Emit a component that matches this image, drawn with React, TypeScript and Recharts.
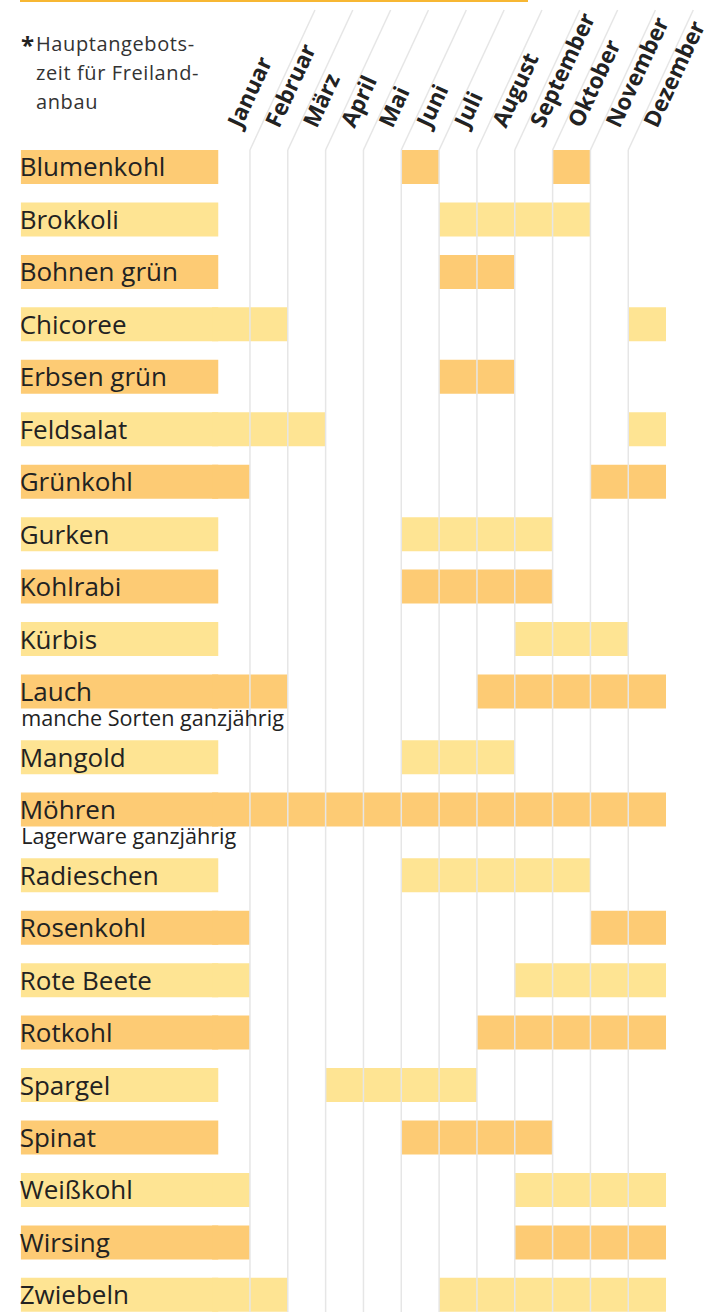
import { Bar, BarChart, Cell, LabelList, ReferenceLine, XAxis, YAxis } from "recharts";

const MONTHS = [
  "Januar",
  "Februar",
  "März",
  "April",
  "Mai",
  "Juni",
  "Juli",
  "August",
  "September",
  "Oktober",
  "November",
  "Dezember",
];

const VEGETABLES = [
  "Blumenkohl",
  "Brokkoli",
  "Bohnen grün",
  "Chicoree",
  "Erbsen grün",
  "Feldsalat",
  "Grünkohl",
  "Gurken",
  "Kohlrabi",
  "Kürbis",
  "Lauch",
  "Mangold",
  "Möhren",
  "Radieschen",
  "Rosenkohl",
  "Rote Beete",
  "Rotkohl",
  "Spargel",
  "Spinat",
  "Weißkohl",
  "Wirsing",
  "Zwiebeln",
];

// Hauptangebotsmonate je Gemüse (1 = Januar ... 12 = Dezember)
const SEASONS: number[][] = [
  [6, 10],
  [7, 8, 9, 10],
  [7, 8],
  [1, 2, 12],
  [7, 8],
  [1, 2, 3, 12],
  [1, 11, 12],
  [6, 7, 8, 9],
  [6, 7, 8, 9],
  [9, 10, 11],
  [1, 2, 8, 9, 10, 11, 12],
  [6, 7, 8],
  [1, 2, 3, 4, 5, 6, 7, 8, 9, 10, 11, 12],
  [6, 7, 8, 9, 10],
  [1, 11, 12],
  [1, 9, 10, 11, 12],
  [1, 8, 9, 10, 11, 12],
  [4, 5, 6, 7],
  [6, 7, 8, 9],
  [1, 9, 10, 11, 12],
  [1, 9, 10, 11, 12],
  [1, 2, 7, 8, 9, 10, 11, 12],
];

const NOTES: Record<string, string> = {
  Lauch: "manche Sorten ganzjährig",
  Möhren: "Lagerware ganzjährig",
};

const LEGEND_LINES = ["Hauptangebots-", "zeit für Freiland-", "anbau"];

const FONT = "'Open Sans', 'Noto Sans', sans-serif";
const TEXT = "#222222";
const ORANGE = "#fdcb74";
const YELLOW = "#fee493";
const GRID = "#e6e6e6";
const ACCENT = "#f7b733";

// layout
const WIDTH = 710;
const HEIGHT = 1312;
const HEADER = 150;
const ROW_PX = 52.45;
const NOTE_GAP = 0.252; // extra space under a row with a note, in rows
const BAR = 34;
const NAME_FROM = -5.06;
const NAME_TO = 0.162;
const Y_MIN = -0.328;
const Y_MAX = Y_MIN + (HEIGHT - HEADER) / ROW_PX;

const toRuns = (months: number[]) => {
  const runs: [number, number][] = [];
  months.forEach((m) => {
    const last = runs[runs.length - 1];
    if (last && last[1] === m - 1) last[1] = m;
    else runs.push([m - 1, m]);
  });
  return runs;
};

let noteShift = 0;
const rows = VEGETABLES.map((name, i) => {
  const row = {
    name,
    note: NOTES[name] ?? "",
    pos: i + noteShift,
    box: [NAME_FROM, NAME_TO],
    runs: toRuns(SEASONS[i]),
  };
  if (NOTES[name]) noteShift += NOTE_GAP;
  return row;
});

const RUN_SLOTS = Array.from(
  { length: Math.max(...rows.map((r) => r.runs.length)) },
  (_, k) => k,
);
const BOUNDARIES = MONTHS.slice(1).map((_, i) => i + 1);
const MONTH_STARTS = MONTHS.map((_, i) => i);

const rowFill = (i: number) => (i % 2 === 0 ? ORANGE : YELLOW);

const MonthTick = (props: any) => {
  const { x, y, payload } = props;
  const v = payload.value as number;
  return (
    <g>
      {v > 0 && (
        <line x1={x} y1={y} x2={x + 65} y2={y - 140} stroke={GRID} strokeWidth={1.5} />
      )}
      <text
        transform={`translate(${x + 29},${y - 21}) rotate(-65)`}
        fontFamily={FONT}
        fontSize={22.5}
        fontWeight={700}
        fill={TEXT}
      >
        {MONTHS[v]}
      </text>
    </g>
  );
};

const NameLabel = (props: any) => {
  const { x, y, height, value } = props;
  return (
    <text
      x={x - 1}
      y={y + height / 2 + 9.5}
      fontFamily={FONT}
      fontSize={26}
      fontWeight={500}
      fill={TEXT}
    >
      {value}
    </text>
  );
};

const NoteLabel = (props: any) => {
  const { x, y, height, value } = props;
  if (!value) return null;
  return (
    <text x={x + 0.5} y={y + height + 17.5} fontFamily={FONT} fontSize={21.6} fill={TEXT}>
      {value}
    </text>
  );
};

export default function App() {
  return (
    <div
      style={{
        position: "absolute",
        left: 0,
        top: 0,
        width: WIDTH,
        height: HEIGHT,
        overflow: "hidden",
        background: "#ffffff",
      }}
    >
      <BarChart
        width={WIDTH}
        height={HEIGHT}
        data={rows}
        layout="vertical"
        barGap={-BAR}
        margin={{ top: 0, right: 43.9, bottom: 0, left: 20.7 }}
      >
        <XAxis
          type="number"
          orientation="top"
          domain={[NAME_FROM, 12]}
          allowDataOverflow
          ticks={MONTH_STARTS}
          interval={0}
          height={HEADER}
          tickSize={0}
          tickMargin={0}
          tickLine={false}
          axisLine={false}
          tick={<MonthTick />}
        />
        <YAxis type="number" dataKey="pos" domain={[Y_MIN, Y_MAX]} allowDataOverflow hide />
        <Bar dataKey="box" barSize={BAR} isAnimationActive={false}>
          {rows.map((_, i) => (
            <Cell key={i} fill={rowFill(i)} />
          ))}
          <LabelList dataKey="name" content={<NameLabel />} />
          <LabelList dataKey="note" content={<NoteLabel />} />
        </Bar>
        {RUN_SLOTS.map((k) => (
          <Bar
            key={k}
            dataKey={(d: any) => d.runs[k] ?? null}
            barSize={BAR}
            isAnimationActive={false}
          >
            {rows.map((_, i) => (
              <Cell key={i} fill={rowFill(i)} />
            ))}
          </Bar>
        ))}
        {BOUNDARIES.map((b) => (
          <ReferenceLine key={b} x={b} stroke={GRID} strokeWidth={1.5} />
        ))}
      </BarChart>
      <svg
        width={WIDTH}
        height={HEADER}
        style={{ position: "absolute", left: 0, top: 0, pointerEvents: "none" }}
      >
        <rect x={20} y={0} width={508} height={2} fill={ACCENT} />
        <text x={21} y={54} fontFamily={FONT} fontSize={24} fontWeight={700} fill={TEXT}>
          *
        </text>
        <text fontFamily={FONT} fontSize={20} letterSpacing={0.6} fill="#333333">
          {LEGEND_LINES.map((line, i) => (
            <tspan key={i} x={36} y={50.7 + i * 29}>
              {line}
            </tspan>
          ))}
        </text>
      </svg>
    </div>
  );
}
